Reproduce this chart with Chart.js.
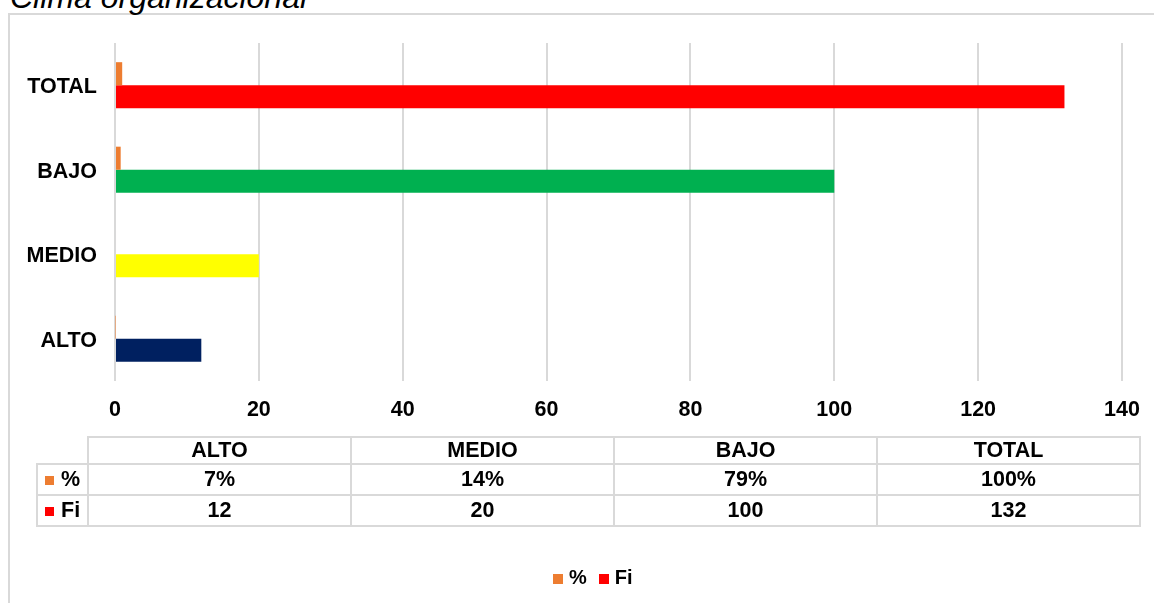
<!DOCTYPE html>
<html>
<head>
<meta charset="utf-8">
<script src="https://cdn.jsdelivr.net/npm/chart.js@4.4.0/dist/chart.umd.min.js"></script>
<style>
  body { margin: 0; width: 1154px; height: 603px; overflow: hidden; background: #fff; position: relative;
         font-family: "Liberation Sans", Arial, sans-serif; color: #000; }
  #titulo { position: absolute; left: 10px; top: -19px; font-style: italic; font-size: 32px; line-height: 32px; white-space: nowrap; }
  #marco { position: absolute; left: 8px; top: 13px; width: 1200px; height: 700px;
           border-top: 2px solid #d9d9d9; border-left: 2px solid #d9d9d9; }
  #grafico { position: absolute; left: 0; top: 0; }
  #tabla { position: absolute; left: 36px; top: 436px; border-collapse: collapse; table-layout: fixed;
           font-weight: bold; font-size: 21.5px; }
  #tabla td { border: 2px solid #d9d9d9; text-align: center; padding: 0; }
  #tabla td.clave { text-align: left; padding-left: 7px; }
  #tabla td.vacia { border-top: none; border-left: none; }
  .cuadro { display: inline-block; width: 9px; height: 9px; margin-right: 7px; vertical-align: 1px; }
  #leyenda { position: absolute; left: 553px; top: 565px; height: 24px; line-height: 24px;
             font-weight: bold; font-size: 20px; white-space: nowrap; }
  #leyenda span.item { margin-right: 12px; }
  #leyenda span.caja { display: inline-block; width: 10px; height: 10px; margin-right: 6px; vertical-align: 0px; }
</style>
</head>
<body>
<div id="marco"></div>
<div id="titulo">Clima organizacional</div>
<canvas id="grafico" width="1154" height="603"></canvas>
<table id="tabla"></table>
<div id="leyenda"></div>
<script>
var categorias = ["ALTO", "MEDIO", "BAJO", "TOTAL"];
var porcentajes = [0.07, 0.14, 0.79, 1.00];
var frecuencias = [12, 20, 100, 132];
var ticksX = [0, 20, 40, 60, 80, 100, 120, 140];

var colorPorc = "#ED7D31";
var colorFi = "#FF0000";
var coloresFi = ["#002060", "#FFFF00", "#00B050", "#FF0000"];

var fuente = { family: "'Liberation Sans', Arial, sans-serif", size: 21.5, weight: "bold" };

var ctx = document.getElementById("grafico").getContext("2d");
var grafico = new Chart(ctx, {
    type: "bar",
    data: {
        labels: categorias,
        datasets: [{
            label: "%",
            data: porcentajes,
            backgroundColor: colorPorc,
            borderWidth: 0,
            categoryPercentage: 0.546,
            barPercentage: 1
        }, {
            label: "Fi",
            data: frecuencias,
            backgroundColor: coloresFi,
            borderWidth: 0,
            categoryPercentage: 0.546,
            barPercentage: 1
        }]
    },
    options: {
        indexAxis: "y",
        responsive: false,
        animation: false,
        layout: { padding: { top: 43, left: 0, right: 32, bottom: 182 } },
        plugins: {
            tooltip: { enabled: false },
            legend: { display: false }
        },
        scales: {
            x: {
                min: 0,
                max: 140,
                afterBuildTicks: function(s) {
                    s.ticks = ticksX.map(function(v) { return { value: v }; });
                },
                afterFit: function(s) {
                    s.height = 40;
                    s.paddingLeft = 0;
                    s.paddingRight = 0;
                },
                grid: { color: "#d9d9d9", lineWidth: 2, drawTicks: false },
                border: { display: false },
                ticks: { padding: 16, color: "#000", font: fuente }
            },
            y: {
                reverse: true,
                afterFit: function(s) { s.width = 115; },
                grid: { display: false, drawTicks: false },
                border: { display: false },
                ticks: { padding: 18, labelOffset: 2, color: "#000", font: fuente }
            }
        }
    }
});

// leyenda (Fi se muestra en rojo como en el original)
var coloresLeyenda = [colorPorc, colorFi];
var ley = "";
grafico.data.datasets.forEach(function(ds, i) {
    ley += '<span class="item"><span class="caja" style="background:' + coloresLeyenda[i] + '"></span>' + ds.label + '</span>';
});
document.getElementById("leyenda").innerHTML = ley;

// tabla de datos bajo el grafico
var tabla = document.getElementById("tabla");
var html = '<colgroup><col style="width:51px">';
for (var i = 0; i < categorias.length; i++) html += '<col style="width:263px">';
html += '</colgroup>';
html += '<tr style="height:24px"><td class="vacia"></td>';
for (var i = 0; i < categorias.length; i++) html += '<td>' + categorias[i] + '</td>';
html += '</tr>';
html += '<tr style="height:31px"><td class="clave"><span class="cuadro" style="background:' + colorPorc + '"></span>%</td>';
for (var i = 0; i < porcentajes.length; i++) html += '<td>' + Math.round(porcentajes[i] * 100) + '%</td>';
html += '</tr>';
html += '<tr style="height:31px"><td class="clave"><span class="cuadro" style="background:' + colorFi + '"></span>Fi</td>';
for (var i = 0; i < frecuencias.length; i++) html += '<td>' + frecuencias[i] + '</td>';
html += '</tr>';
tabla.innerHTML = html;
</script>
</body>
</html>
